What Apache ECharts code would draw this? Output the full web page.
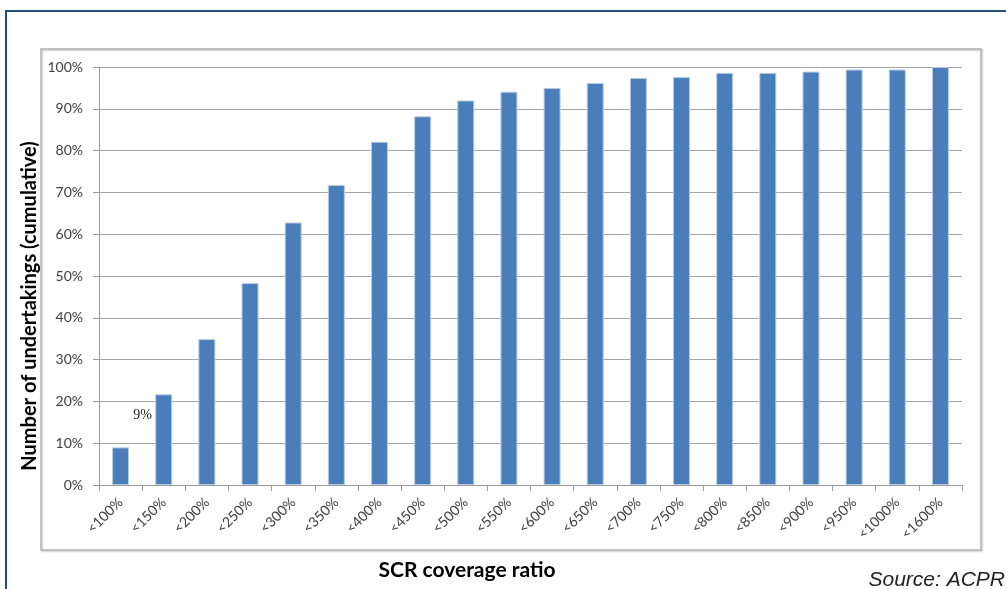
<!DOCTYPE html>
<html>
<head>
<meta charset="utf-8">
<script src="https://cdn.jsdelivr.net/npm/echarts@6/dist/echarts.min.js"></script>
<style>
  html, body { margin: 0; padding: 0; background: #ffffff; }
  #chart { width: 1006px; height: 589px; }
</style>
</head>
<body>
<div id="chart"></div>
<script>
// SCR coverage ratio buckets (cumulative share of undertakings, %)
const categories = ['<100%', '<150%', '<200%', '<250%', '<300%', '<350%', '<400%', '<450%',
  '<500%', '<550%', '<600%', '<650%', '<700%', '<750%', '<800%', '<850%', '<900%',
  '<950%', '<1000%', '<1600%'];
const cumulativeShare = [9, 21.7, 34.9, 48.3, 62.8, 71.8, 82.1, 88.2, 92.0, 94.1, 95.0,
  96.2, 97.4, 97.6, 98.6, 98.6, 98.9, 99.4, 99.4, 100];
const yTicks = { min: 0, max: 100, step: 10 };

const tickFont = 'Lato, "Open Sans", sans-serif';

const chart = echarts.init(document.getElementById('chart'), null, { renderer: 'canvas' });

const barData = cumulativeShare.map((v, i) => {
  if (i === 0) {
    return {
      value: v,
      label: {
        show: true,
        position: 'top',
        offset: [22, -20],
        formatter: '{c}%',
        fontFamily: '"Liberation Serif", "DejaVu Serif", serif',
        fontSize: 14,
        color: '#222222'
      }
    };
  }
  return v;
});

chart.setOption({
  animation: false,
  backgroundColor: '#ffffff',
  grid: { left: 99, right: 44, top: 67, bottom: 104, containLabel: false },
  xAxis: {
    type: 'category',
    data: categories,
    axisLine: { show: true, lineStyle: { color: '#9a9a9a', width: 1 } },
    axisTick: { show: true, alignWithLabel: false, length: 6, lineStyle: { color: '#9a9a9a' } },
    axisLabel: {
      interval: 0,
      rotate: 45,
      margin: 15,
      fontFamily: tickFont,
      fontSize: 14,
      color: '#404040'
    },
    splitLine: { show: false }
  },
  yAxis: {
    type: 'value',
    min: yTicks.min,
    max: yTicks.max,
    interval: yTicks.step,
    axisLine: { show: true, lineStyle: { color: '#9a9a9a', width: 1 } },
    axisTick: { show: true, length: 6, lineStyle: { color: '#9a9a9a' } },
    axisLabel: {
      formatter: '{value}%',
      margin: 16,
      fontFamily: tickFont,
      fontSize: 14,
      color: '#404040'
    },
    splitLine: { show: true, lineStyle: { color: '#a6a6a6', width: 1 } }
  },
  series: [{
    type: 'bar',
    data: barData,
    barWidth: 17,
    itemStyle: {
      color: '#4a7ebb',
      borderColor: '#b8cce4',
      borderWidth: 1
    }
  }],
  graphic: [
    // outer dark blue frame
    {
      type: 'rect',
      shape: { x: 6, y: 11, width: 1020, height: 600 },
      style: { fill: 'none', stroke: '#1f4e79', lineWidth: 2 },
      z: 10
    },
    // inner chart area frame with soft shadow
    {
      type: 'rect',
      shape: { x: 41, y: 49, width: 940, height: 501 },
      style: {
        fill: 'none',
        stroke: '#b3b3b3',
        lineWidth: 1.5,
        shadowColor: 'rgba(0,0,0,0.25)',
        shadowBlur: 2,
        shadowOffsetX: 1,
        shadowOffsetY: 1
      },
      z: 10
    },
    {
      type: 'text',
      x: 30,
      y: 306,
      rotation: Math.PI / 2,
      style: {
        text: 'Number of undertakings (cumulative)',
        fontFamily: tickFont,
        fontWeight: 'bold',
        fontSize: 20,
        fill: '#000000',
        align: 'center',
        verticalAlign: 'middle'
      },
      z: 10
    },
    {
      type: 'text',
      x: 467,
      y: 570,
      style: {
        text: 'SCR coverage ratio',
        fontFamily: tickFont,
        fontWeight: 'bold',
        fontSize: 21,
        fill: '#000000',
        align: 'center',
        verticalAlign: 'middle'
      },
      z: 10
    },
    {
      type: 'text',
      x: 1005,
      y: 580,
      style: {
        text: 'Source: ACPR',
        fontFamily: '"Liberation Sans", Arial, sans-serif',
        fontStyle: 'italic',
        fontSize: 21,
        fill: '#222222',
        align: 'right',
        verticalAlign: 'middle'
      },
      z: 10
    }
  ]
});
</script>
</body>
</html>
